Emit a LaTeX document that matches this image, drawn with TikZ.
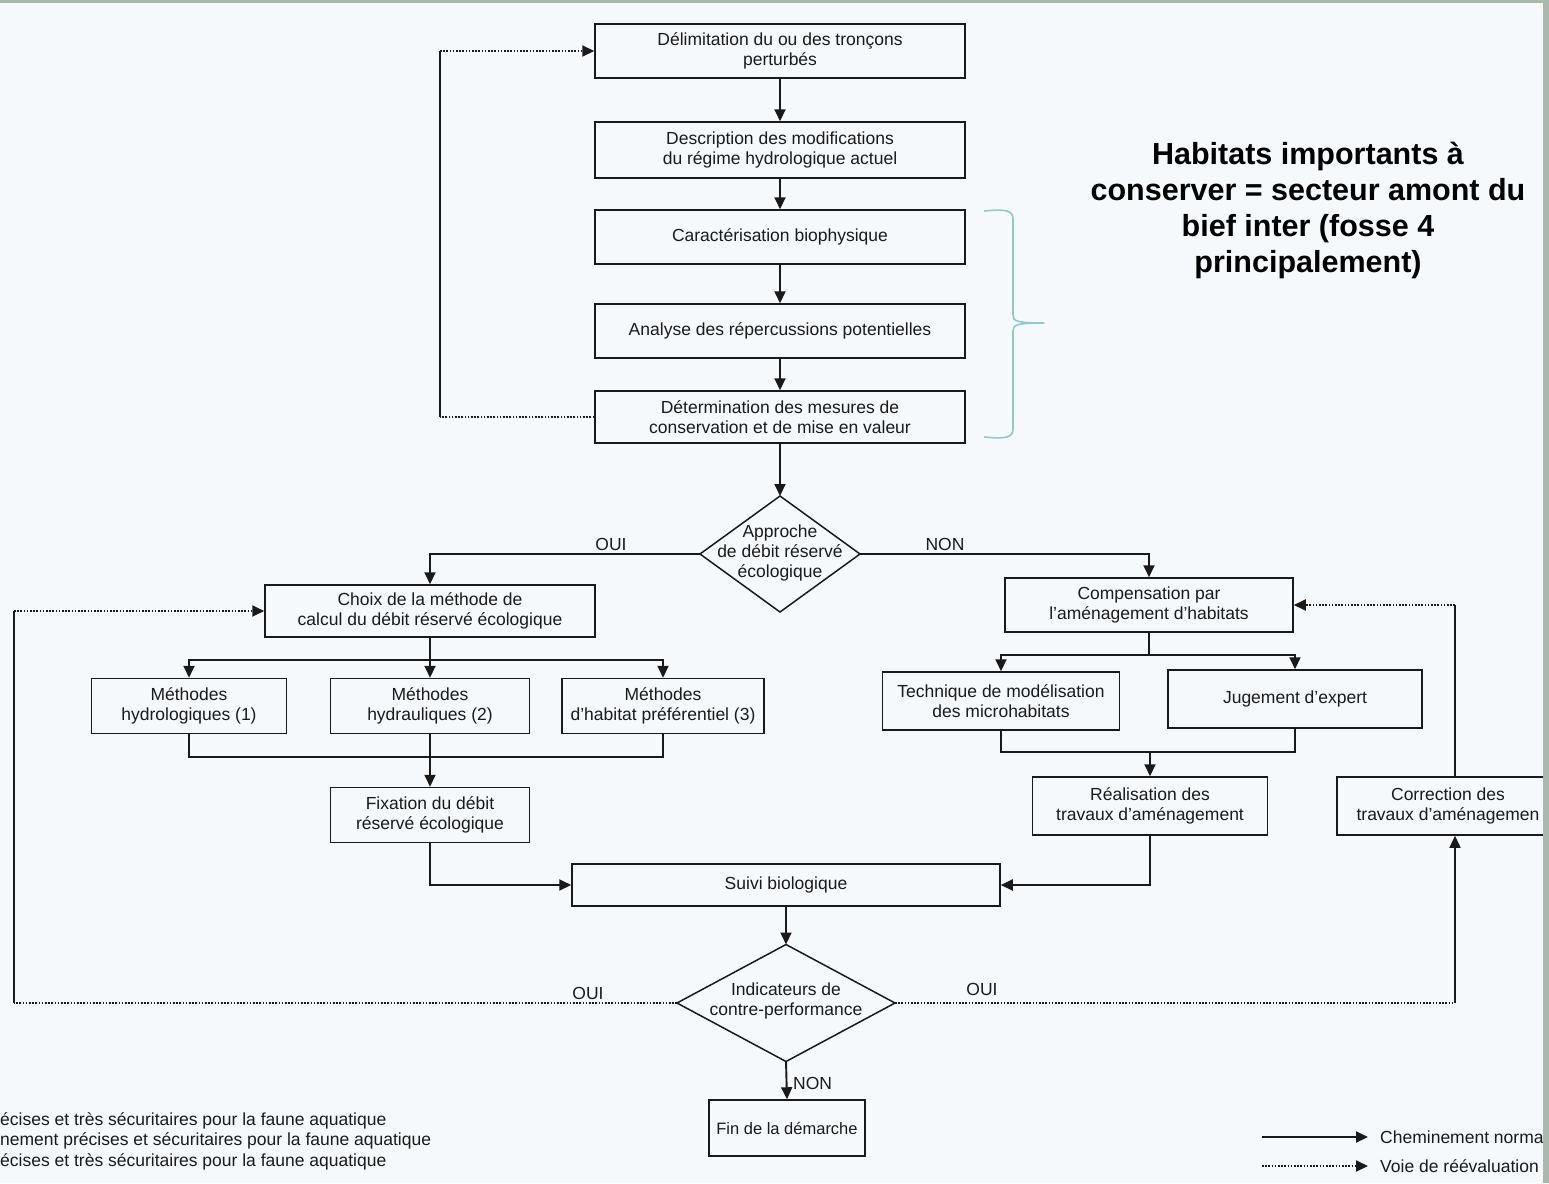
\documentclass[tikz,border=0pt]{standalone}
\usepackage{fontspec}
\setmainfont{Liberation Sans}
\usetikzlibrary{shapes.geometric,arrows.meta}
\definecolor{bg}{HTML}{F6F9FC}
\definecolor{edgec}{HTML}{A9B9AB}
\definecolor{ink}{HTML}{1A1A1A}
\definecolor{bracec}{HTML}{8FCACB}
\begin{document}
\begin{tikzpicture}[x=1pt,y=-1pt,
  box/.style={draw=ink, line width=1.5pt, fill=bg, align=center, inner sep=0pt,
    font=\fontsize{17.5}{20}\selectfont, text=ink},
  dia/.style={diamond, draw=ink, line width=1.5pt, fill=bg, inner sep=0pt, outer sep=0pt},
  txt/.style={align=center, inner sep=0pt, font=\fontsize{17.5}{20}\selectfont, text=ink},
  lab/.style={inner sep=1pt, font=\fontsize{17.5}{20}\selectfont, text=ink},
  lnk/.style={draw=ink, line width=1.9pt},
  conn/.style={lnk, -{Triangle[length=12pt,width=11pt]}},
  dotl/.style={lnk, dash pattern=on 1.6pt off 1.6pt},
  reeval/.style={conn, dash pattern=on 1.6pt off 1.6pt},
  vsol/.style={draw=ink, line width=1.5pt},
  bracepath/.style={draw=bracec, line width=1.6pt}
]
\useasboundingbox (0,0) rectangle (1549,1183);
\fill[bg] (0,0) rectangle (1549,1183);

% main column
\node[box, minimum width=370, minimum height=54] (b1) at (780,51) {Délimitation du ou des tronçons\\perturbés};
\node[box, minimum width=370, minimum height=56] (b2) at (780,150) {Description des modifications\\du régime hydrologique actuel};
\node[box, minimum width=370, minimum height=54] (b3) at (780,237) {Caractérisation biophysique};
\node[box, minimum width=370, minimum height=54] (b4) at (780,331) {Analyse des répercussions potentielles};
\node[box, minimum width=370, minimum height=52] (b5) at (780,417) {Détermination des mesures de\\conservation et de mise en valeur};

\node[dia, minimum width=160, minimum height=116] (d1) at (780,554) {};
\node[txt] (d1t) at (780,553) {Approche\\de débit réservé\\écologique};

\node[box, minimum width=330, minimum height=52] (choix) at (430,611) {Choix de la méthode de\\calcul du débit réservé écologique};
\node[box, minimum width=288, minimum height=54] (comp) at (1149,605) {Compensation par\\l'aménagement d'habitats};

\node[box, minimum width=195, minimum height=55] (m1) at (189,706) {Méthodes\\hydrologiques (1)};
\node[box, minimum width=199, minimum height=55] (m2) at (430,706) {Méthodes\\hydrauliques (2)};
\node[box, minimum width=202, minimum height=55] (m3) at (663,706) {Méthodes\\d'habitat préférentiel (3)};
\node[box, minimum width=199, minimum height=55] (fix) at (430,815) {Fixation du débit\\réservé écologique};

\node[box, minimum width=237, minimum height=58] (tech) at (1001,701) {Technique de modélisation\\des microhabitats};
\node[box, minimum width=254, minimum height=58] (jug) at (1295,699) {Jugement d'expert};
\node[box, minimum width=235, minimum height=58] (real) at (1150,806) {Réalisation des\\travaux d'aménagement};
\node[box, minimum width=236, minimum height=58] (corr) at (1455,806) {};
\node[txt] (corrt) at (1448,806) {Correction des\\travaux d'aménagemen};

\node[box, minimum width=428, minimum height=42] (suivi) at (786,885) {Suivi biologique};
\node[dia, minimum width=218, minimum height=117] (d2) at (786,1003) {};
\node[txt] (d2t) at (786,1001) {Indicateurs de\\contre-performance};
\node[box, minimum width=156, minimum height=56, font=\fontsize{16.5}{20}\selectfont] (fin) at (787,1128) {Fin de la démarche};

% main column arrows
\draw[conn] (b1.south) -- (b2.north);
\draw[conn] (b2.south) -- (b3.north);
\draw[conn] (b3.south) -- (b4.north);
\draw[conn] (b4.south) -- (b5.north);
\draw[conn] (b5.south) -- (d1.north);
\coordinate (tl1) at (440,417);
\coordinate (tl2) at (440,51);
\draw[dotl] (b5.west) -- (tl1);
\draw[vsol] (tl1) -- (tl2);
\draw[reeval] (tl2) -- (b1.west);

\draw[conn] (d1.west) -| (choix.north);
\draw[conn] (d1.east) -| (comp.north);
\node[lab, anchor=south] (oui1) at (611,552) {OUI};
\node[lab, anchor=south] (non1) at (945,552) {NON};

% left branch
\coordinate (s1) at (430,660);
\coordinate (j1) at (430,757);
\draw[lnk] (choix.south) -- (s1);
\draw[conn] (s1) -| (m1.north);
\draw[conn] (s1) -- (m2.north);
\draw[conn] (s1) -| (m3.north);
\draw[lnk] (m1.south) |- (j1);
\draw[lnk] (m3.south) |- (j1);
\draw[conn] (m2.south) -- (fix.north);
\draw[conn] (fix.south) |- (suivi.west);

% right branch
\coordinate (s2) at (1149,655);
\coordinate (j2) at (1150,752);
\draw[lnk] (comp.south) -- (s2);
\draw[conn] (s2) -| (tech.north);
\draw[conn] (s2) -| (jug.north);
\draw[lnk] (tech.south) |- (j2);
\draw[lnk] (jug.south) |- (j2);
\draw[conn] (j2) -- (real.north);
\draw[conn] (real.south) |- (suivi.east);

% bottom
\draw[conn] (suivi.south) -- (d2.north);
\draw[conn] (d2.south) -- (fin.north);
\node[lab, anchor=west] (non2) at (792,1083) {NON};
\coordinate (bl1) at (14,1003);
\coordinate (bl2) at (14,611);
\draw[dotl] (d2.west) -- (bl1);
\draw[vsol] (bl1) -- (bl2);
\draw[reeval] (bl2) -- (choix.west);
\coordinate (br1) at (d2.east -| corr.south);
\draw[dotl] (d2.east) -- (br1);
\draw[vsol, -{Triangle[length=12pt,width=11pt]}] (br1) -- (corr.south);
\coordinate (br2) at (corr.north |- comp.east);
\draw[vsol] (corr.north) -- (br2);
\draw[reeval] (br2) -- (comp.east);
\node[lab, anchor=south] (oui2) at (588,1001) {OUI};
\node[lab, anchor=south] (oui3) at (982,997) {OUI};

% brace
\draw[bracepath] (984,211) .. controls (1005,209) and (1013,210) .. (1013,219) -- (1013,315)
  .. controls (1013,321) and (1016,323) .. (1044,323);
\draw[bracepath] (984,437) .. controls (1005,439) and (1013,438) .. (1013,429) -- (1013,331)
  .. controls (1013,325) and (1016,323) .. (1044,323);
\node[align=center, inner sep=0pt, font=\fontsize{30.5}{36}\selectfont\bfseries, text=black] (note) at (1308,210)
  {Habitats importants à\\conserver = secteur amont du\\bief inter (fosse 4\\principalement)};

% legend left
\node[lab, anchor=west, inner sep=0pt] (lg1) at (0,1121) {écises et très sécuritaires pour la faune aquatique};
\node[lab, anchor=west, inner sep=0pt] (lg2) at (0,1141) {nement précises et sécuritaires pour la faune aquatique};
\node[lab, anchor=west, inner sep=0pt] (lg3) at (0,1162) {écises et très sécuritaires pour la faune aquatique};

% legend right
\coordinate (la1) at (1262,1137);
\coordinate (lb1) at (1368,1137);
\coordinate (la2) at (1262,1166);
\coordinate (lb2) at (1368,1166);
\draw[conn] (la1) -- (lb1);
\draw[reeval] (la2) -- (lb2);
\node[lab, anchor=west, inner sep=0pt] (lgr1) at (1380,1137) {Cheminement norma};
\node[lab, anchor=west, inner sep=0pt] (lgr2) at (1380,1166) {Voie de réévaluation};

% scan edges
\fill[edgec] (0,0) rectangle (1549,3);
\fill[edgec] (1543,0) rectangle (1549,1183);
\end{tikzpicture}
\end{document}
